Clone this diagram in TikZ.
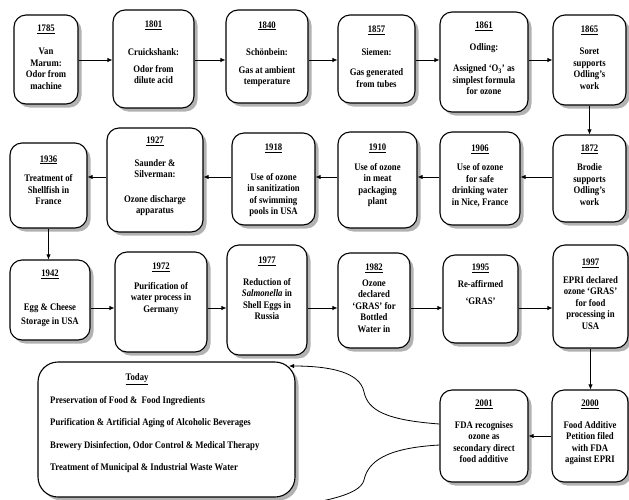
\documentclass[tikz,border=0pt]{standalone}
\usepackage{fontspec}
\setmainfont[FakeStretch=0.87]{Liberation Serif}
\usetikzlibrary{shadows,arrows.meta,calc}
\newcommand\bt[2][0pt]{\raisebox{#1}[0pt][0pt]{\begin{tabular}{@{}c@{}}#2\end{tabular}}}
\begin{document}
\begin{tikzpicture}[x=1pt,y=-1pt,
  box/.style={draw, line width=1.1pt, rounded corners=12pt, fill=white, inner sep=0pt,
    drop shadow={shadow xshift=3.5pt, shadow yshift=-3.5pt, fill=black!30, opacity=1},
    font=\bfseries\fontsize{10}{11.5}\selectfont},
  txt/.style={inner sep=0pt, font=\bfseries\fontsize{10}{11.5}\selectfont},
  arr/.style={-{Latex[length=5pt,width=4.5pt]}, line width=0.8pt},
  curve/.style={line width=0.8pt}]
\useasboundingbox (0,0) rectangle (629,499);
% row 1
\node[box, minimum width=64pt, minimum height=89pt] (A) at (46,59.5) {\bt[-1pt]{\underline{1785}\\[11.5pt] Van\\Marum:\\Odor from\\machine}};
\node[box, minimum width=81pt, minimum height=98pt] (B) at (153.5,59) {\bt[3pt]{\underline{1801}\\[16pt] Cruickshank:\\[5.5pt] Odor from\\dilute acid}};
\node[box, minimum width=82pt, minimum height=93pt] (C) at (267,56.5) {\bt{\underline{1840}\\[16pt] Schönbein:\\[6pt] Gas at ambient\\temperature}};
\node[box, minimum width=77pt, minimum height=88pt] (D) at (376.5,59) {\bt[-1pt]{\underline{1857}\\[11pt] Siemen:\\[9pt] Gas generated\\from tubes}};
\node[box, minimum width=88pt, minimum height=100pt] (E) at (484,62) {\bt{\underline{1861}\\[10pt] Odling:\\[10pt] Assigned `O\textsubscript{3}' as\\simplest formula\\for ozone}};
\node[box, minimum width=73pt, minimum height=90pt] (F) at (589.5,60) {\bt[-1pt]{\underline{1865}\\[11pt] Soret\\supports\\Odling's\\work}};
% row 2
\node[box, minimum width=73pt, minimum height=87pt] (G) at (589.5,178.5) {\bt{\underline{1872}\\[8pt] Brodie\\supports\\Odling's\\work}};
\node[box, minimum width=80pt, minimum height=93pt] (H) at (480,178.5) {\bt{\underline{1906}\\[8pt] Use of ozone\\for safe\\drinking water\\in Nice, France}};
\node[box, minimum width=79pt, minimum height=96pt] (I) at (377.5,180) {\bt[2pt]{\underline{1910}\\[8pt] Use of ozone\\in meat\\packaging\\plant}};
\node[box, minimum width=83pt, minimum height=92pt] (J) at (273.5,179) {\bt[-4pt]{\underline{1918}\\[18pt] Use of ozone\\in sanitization\\of swimming\\pools in USA}};
\node[box, minimum width=96pt, minimum height=104pt] (K) at (155,180) {\bt[1pt]{\underline{1927}\\[11pt] Saunder \&\\Silverman:\\[13pt] Ozone discharge\\apparatus}};
\node[box, minimum width=77pt, minimum height=85pt] (L) at (48.5,185.5) {\bt[2pt]{\underline{1936}\\[8pt] Treatment of\\Shellfish in\\France}};
% row 3
\node[box, minimum width=80pt, minimum height=80pt] (M) at (50,300) {\bt[-1pt]{\underline{1942}\\[22pt] Egg \& Cheese\\[3pt] Storage in USA}};
\node[box, minimum width=92pt, minimum height=100pt] (N) at (161,302) {\bt[11pt]{\underline{1972}\\[8pt] Purification of\\water process in\\Germany}};
\node[box, minimum width=80pt, minimum height=110pt] (O) at (267,300) {\bt[8pt]{\underline{1977}\\[10pt] Reduction of\\\textit{Salmonella} in\\Shell Eggs in\\Russia}};
\node[box, minimum width=72pt, minimum height=95pt] (P) at (374,300.5) {\bt[-1pt]{\underline{1982}\\[4pt] Ozone\\declared\\`GRAS' for\\Bottled\\Water in}};
\node[box, minimum width=75pt, minimum height=88pt] (Q) at (480.5,299) {\bt[11pt]{\underline{1995}\\[5pt] Re-affirmed\\[6pt] `GRAS'}};
\node[box, minimum width=75pt, minimum height=103pt] (R) at (590.5,296.5) {\bt[-1pt]{\underline{1997}\\[6pt] EPRI declared\\ozone `GRAS'\\for food\\processing in\\USA}};
% row 4
\node[box, minimum width=88pt, minimum height=92pt] (S) at (484,436) {\bt[1pt]{\underline{2001}\\[10pt] FDA recognises\\ozone as\\secondary direct\\food additive}};
\node[box, minimum width=76pt, minimum height=92pt] (T) at (590,436) {\bt[1pt]{\underline{2000}\\[10pt] Food Additive\\Petition filed\\with FDA\\against EPRI}};
% today box
\node[box, rounded corners=20pt, minimum width=257pt, minimum height=135pt] (today) at (166.5,429.5) {};
\node[txt] (todayt) at (137,379) {\underline{Today}};
\node[txt, anchor=west] (t1) at (50,401) {Preservation of Food \&\ \ Food Ingredients};
\node[txt, anchor=west] (t2) at (50,423) {Purification \& Artificial Aging of Alcoholic Beverages};
\node[txt, anchor=west] (t3) at (50,446) {Brewery Disinfection, Odor Control \& Medical Therapy};
\node[txt, anchor=west] (t4) at (50,468) {Treatment of Municipal \& Industrial Waste Water};
% connector rows
\coordinate (r1) at (0,60);
\coordinate (r2) at (0,177);
\coordinate (r3) at (0,308);
\draw[arr] (A.east |- r1) -- (B.west |- r1);
\draw[arr] (B.east |- r1) -- (C.west |- r1);
\draw[arr] (C.east |- r1) -- (D.west |- r1);
\draw[arr] (D.east |- r1) -- (E.west |- r1);
\draw[arr] (E.east |- r1) -- (F.west |- r1);
\draw[arr] (F.south) -- (G.north);
\draw[arr] (G.west |- r2) -- (H.east |- r2);
\draw[arr] (H.west |- r2) -- (I.east |- r2);
\draw[arr] (I.west |- r2) -- (J.east |- r2);
\draw[arr] (J.west |- r2) -- (K.east |- r2);
\draw[arr] (K.west |- r2) -- (L.east |- r2);
\draw[arr] (L.south) -- (L.south |- M.north);
\draw[arr] (M.east |- r3) -- (N.west |- r3);
\draw[arr] (N.east |- r3) -- (O.west |- r3);
\draw[arr] (O.east |- r3) -- (P.west |- r3);
\draw[arr] (P.east |- r3) -- (Q.west |- r3);
\draw[arr] (Q.east |- r3) -- (R.west |- r3);
\draw[arr] (R.south) -- (R.south |- T.north);
\draw[arr] (T.west) -- (S.east);
% curves to today box
\coordinate (tip) at (289,366);
\coordinate (lowend) at (280,508);
\draw[arr] ($(S.west)+(0,-12)$) .. controls (385,420) and (368,410) .. (364,392)
  .. controls (360,372) and (330,366) .. (tip);
\draw[curve] ($(S.west)+(0,9)$) .. controls (385,448) and (368,462) .. (364,480)
  .. controls (360,496) and (320,502) .. (lowend);
\end{tikzpicture}
\end{document}
